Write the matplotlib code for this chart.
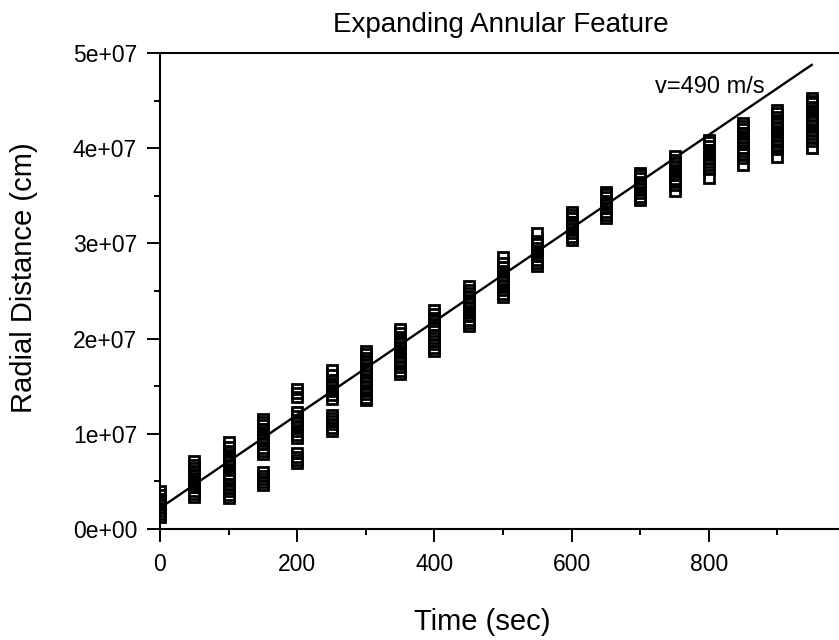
import matplotlib
matplotlib.use("Agg")
import matplotlib.pyplot as plt
from matplotlib.ticker import MultipleLocator
import numpy as np

plt.rcParams['font.family'] = ['Liberation Sans', 'DejaVu Sans']

# Observation times (s)
times = [0, 50, 100, 150, 200, 250, 300, 350, 400, 450,
         500, 550, 600, 650, 700, 750, 800, 850, 900, 950]

# Radial distances (units of 1e7 cm) measured at each time
r_t0 = [0.13, 0.16, 0.19, 0.22, 0.26, 0.29, 0.32, 0.36, 0.40]
r_t50 = [0.34, 0.37, 0.40, 0.44, 0.47, 0.50, 0.53, 0.57, 0.60, 0.64, 0.67, 0.71]
r_t100 = [0.33, 0.36, 0.40, 0.43, 0.47, 0.52, 0.55, 0.58, 0.62, 0.66, 0.70, 0.74,
          0.78, 0.82, 0.86, 0.91]
r_t150 = [0.46, 0.49, 0.52, 0.56, 0.60, 0.79, 0.82, 0.85, 0.89, 0.93, 0.97, 1.01,
          1.05, 1.09, 1.12, 1.16]
r_t200 = [0.69, 0.72, 0.76, 0.80, 0.96, 0.99, 1.03, 1.07, 1.11, 1.15, 1.19, 1.23,
          1.39, 1.43, 1.47]
r_t250 = [1.03, 1.06, 1.10, 1.13, 1.17, 1.20, 1.37, 1.41, 1.45, 1.49, 1.53, 1.57,
          1.62, 1.67]
r_t300 = [1.35, 1.38, 1.42, 1.45, 1.49, 1.53, 1.57, 1.61, 1.65, 1.68, 1.72, 1.76,
          1.80, 1.84, 1.87]
r_t350 = [1.63, 1.66, 1.70, 1.74, 1.78, 1.82, 1.86, 1.90, 1.94, 1.98, 2.02, 2.06, 2.10]
r_t400 = [1.87, 1.90, 1.94, 1.98, 2.04, 2.11, 2.14, 2.18, 2.22, 2.26, 2.30]
r_t450 = [2.13, 2.16, 2.20, 2.24, 2.28, 2.32, 2.36, 2.40, 2.44, 2.48, 2.51, 2.55]
r_t500 = [2.44, 2.47, 2.51, 2.55, 2.59, 2.63, 2.67, 2.71, 2.75, 2.79, 2.86]
r_t550 = [2.76, 2.79, 2.83, 2.87, 2.91, 2.95, 2.99, 3.03, 3.11]
r_t600 = [3.04, 3.07, 3.11, 3.15, 3.19, 3.23, 3.27, 3.30, 3.33]
r_t650 = [3.27, 3.30, 3.33, 3.37, 3.41, 3.45, 3.49, 3.52, 3.54]
r_t700 = [3.46, 3.49, 3.53, 3.57, 3.61, 3.65, 3.69, 3.72, 3.74]
r_t750 = [3.55, 3.61, 3.64, 3.68, 3.72, 3.76, 3.80, 3.84, 3.88, 3.92]
r_t800 = [3.69, 3.78, 3.82, 3.86, 3.90, 3.94, 3.98, 4.02, 4.06, 4.09]
r_t850 = [3.82, 3.90, 3.94, 3.97, 4.00, 4.04, 4.08, 4.12, 4.16, 4.20, 4.23, 4.26]
r_t900 = [3.91, 3.99, 4.03, 4.06, 4.09, 4.13, 4.17, 4.21, 4.25, 4.29, 4.33, 4.37, 4.40]
r_t950 = [4.00, 4.08, 4.12, 4.15, 4.19, 4.23, 4.27, 4.31, 4.35, 4.39, 4.43, 4.47,
          4.50, 4.53]

radii = [r_t0, r_t50, r_t100, r_t150, r_t200, r_t250, r_t300, r_t350, r_t400, r_t450,
         r_t500, r_t550, r_t600, r_t650, r_t700, r_t750, r_t800, r_t850, r_t900, r_t950]
radius_unit = 1e7

# Linear fit: r = intercept + v * t  (v = 490 m/s = 4.9e4 cm/s)
fit_intercept = 2.2e6
fit_velocity = 4.9e4
fit_t_range = [0, 950]
fit_label = "v=490 m/s"

x_ticks = [0, 200, 400, 600, 800]
y_ticks = [0, 1e7, 2e7, 3e7, 4e7, 5e7]
y_tick_labels = ["0e+00", "1e+07", "2e+07", "3e+07", "4e+07", "5e+07"]

fig = plt.figure(figsize=(8.39, 6.4), dpi=100)
ax = fig.add_axes([160/839, 1-529/640, 686/839, 476/640])

for t, rs in zip(times, radii):
    vals = np.array(rs) * radius_unit
    ax.plot([t]*len(vals), vals, linestyle='none', marker='s', ms=6.6,
            mfc='none', mec='black', mew=2.0, zorder=3)

tt = np.array(fit_t_range, dtype=float)
ax.plot(tt, fit_intercept + fit_velocity*tt, color='black', lw=1.7, zorder=4)
ax.text(721, 4.58e7, fit_label, fontsize=17, ha='left', va='baseline')

ax.set_xlim(0, 1000)
ax.set_ylim(0, 5e7)
ax.set_xticks(x_ticks)
ax.xaxis.set_minor_locator(MultipleLocator(100))
ax.set_yticks(y_ticks)
ax.set_yticklabels(y_tick_labels)
ax.yaxis.set_minor_locator(MultipleLocator(5e6))

for s in ['left', 'bottom', 'top', 'right']:
    ax.spines[s].set_linewidth(1.5)

ax.tick_params(axis='both', which='major', direction='out', length=9.5, width=1.4,
               labelsize=16.5)
ax.tick_params(axis='x', which='major', pad=8)
ax.tick_params(axis='y', which='major', pad=7)
ax.tick_params(axis='y', which='minor', direction='out', length=4, width=1.4)
ax.tick_params(axis='x', which='minor', direction='out', length=4.5, width=1.4)
ax.tick_params(top=False, right=False, which='both')

ax.set_xlabel("Time (sec)", fontsize=21)
ax.xaxis.set_label_coords((482-160)/686, (529-622)/476)
ax.xaxis.label.set_va('center')
ax.set_ylabel("Radial Distance (cm)", fontsize=21)
ax.yaxis.set_label_coords((24-160)/686, (529-278)/476)
ax.yaxis.label.set_va('center')

ax.set_title("Expanding Annular Feature", fontsize=20, x=(501-160)/686, y=(529-32)/476,
             pad=0, va='baseline')

fig.savefig("out.png", dpi=100)
